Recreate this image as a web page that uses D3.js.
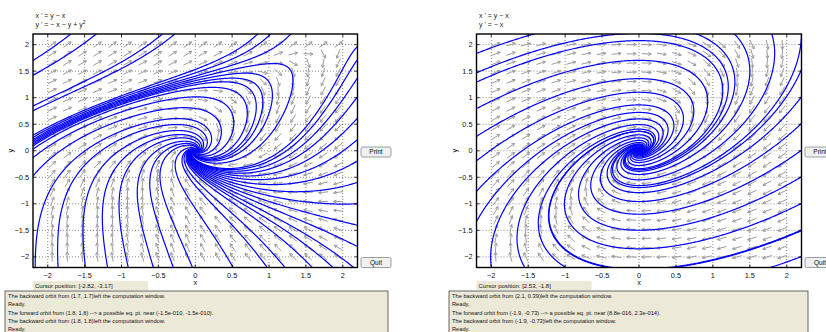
<!DOCTYPE html>
<html>
<head>
<meta charset="utf-8">
<script src="https://d3js.org/d3.v7.min.js"></script>
<style>
  body { margin: 0; background: #fff; }
  svg { display: block; font-family: "Liberation Sans", Arial, sans-serif; }
  .tick-label { font-size: 7.3px; fill: #111; }
  .axis-label { font-size: 7.3px; fill: #111; }
  .title { font-size: 7px; fill: #222; }
  .msg { font-size: 5.7px; fill: #111; }
  .cur { font-size: 6px; fill: #111; }
  .btn-text { font-size: 6.5px; fill: #111; }
</style>
</head>
<body>
<svg id="chart" width="826" height="332"></svg>
<script>
// ---- data ----
const tickValues = [-2, -1.5, -1, -0.5, 0, 0.5, 1, 1.5, 2];
const windowX = [-2.2, 2.2];
const windowY = [-2.2, 2.2];

const leftTitle = ["x ' = y \u2212 x", "y ' = \u2212 x \u2212 y + y"];
const rightTitle = ["x ' = y \u2212 x", "y ' = \u2212 x"];

// clicked starting points (x, y) for the left system
const leftSeedsBottom = [-2.17, -1.86, -1.49, -1.19, -0.91, -0.57, -0.30, -0.04, 0.51, 0.97, 1.21, 1.58, 1.86, 2.14];
const leftSeedsLeft = [1.71, 1.43, 0.85, 0.76, 0.3, 0.26, 0.22, 0.19, 0.16, 0.13, 0.1, 0.04, -0.12, -0.46];
const leftSeedsRight = [1.95, 1.7, 1.35, 1.0, 0.6, 0.2, -0.2, -0.6, -1.0, -1.4, -1.8];

// clicked starting points for the right system
const rightSeedsLeft = [1.84, 1.3, 0.8, 0.28, -0.18, -0.75, -1.31];
const rightSeedsBottom = [-2.0, -1.55, -1.0, -0.45];
const rightSeedsRight = [2.0, 1.5, 1.0, 0.5, 0.0, -0.5, -1.0, -1.5, -2.0];
const rightSeedsTop = [0.3, 0.8, 1.3, 1.8];

const leftCursor = "Cursor position:  [-2.82, -3.17]";
const rightCursor = "Cursor position:  [2.53, -1.8]";

const leftMessages = [
  "The backward orbit from (1.7, 1.7)left the computation window.",
  "Ready.",
  "The forward orbit from (1.8, 1.8) --> a possible eq. pt. near (-1.5e-010, -1.5e-010).",
  "The backward orbit from (1.8, 1.8)left the computation window.",
  "Ready."
];
const rightMessages = [
  "The backward orbit from (2.1, 0.39)left the computation window.",
  "Ready.",
  "The forward orbit from (-1.9, -0.73) --> a possible eq. pt. near (8.8e-016, 2.3e-014).",
  "The backward orbit from (-1.9, -0.73)left the computation window.",
  "Ready."
];

// the two systems
function fieldLeft(x, y) { return [y - x, -x - y + y * y]; }
function fieldRight(x, y) { return [y - x, -x]; }

const edge = 2.19;
function seedsFrom(left, bottom, right, top) {
  const s = [];
  left.forEach(y => s.push([-edge, y]));
  bottom.forEach(x => s.push([x, -edge]));
  right.forEach(y => s.push([edge, y]));
  top.forEach(x => s.push([x, edge]));
  return s;
}

const svg = d3.select('#chart');

function orbit(f, start, dir) {
  const dt = 0.005 * dir;
  let [x, y] = start;
  const pts = [[x, y]];
  for (let i = 0; i < 12000; i++) {
    const k1 = f(x, y);
    const k2 = f(x + dt / 2 * k1[0], y + dt / 2 * k1[1]);
    const k3 = f(x + dt / 2 * k2[0], y + dt / 2 * k2[1]);
    const k4 = f(x + dt * k3[0], y + dt * k3[1]);
    x += dt / 6 * (k1[0] + 2 * k2[0] + 2 * k3[0] + k4[0]);
    y += dt / 6 * (k1[1] + 2 * k2[1] + 2 * k3[1] + k4[1]);
    pts.push([x, y]);
    if (x < windowX[0] - 0.05 || x > windowX[1] + 0.05 || y < windowY[0] - 0.05 || y > windowY[1] + 0.05) break;
    if (Math.hypot(x, y) < 0.002) break;
  }
  return pts;
}

function drawPanel(p) {
  const xScale = d3.scaleLinear().domain(windowX).range([p.x0, p.x1]);
  const yScale = d3.scaleLinear().domain(windowY).range([p.y1, p.y0]);
  const g = svg.append('g');

  const clipId = 'clip-' + p.id;
  svg.append('clipPath').attr('id', clipId)
    .append('rect')
    .attr('x', p.x0).attr('y', p.y0)
    .attr('width', p.x1 - p.x0).attr('height', p.y1 - p.y0);

  // dotted grid
  const grid = g.append('g').attr('stroke', '#555').attr('stroke-width', 0.7)
    .attr('stroke-dasharray', '1,2');
  tickValues.forEach(t => {
    grid.append('line').attr('x1', xScale(t)).attr('x2', xScale(t))
      .attr('y1', p.y0).attr('y2', p.y1);
    grid.append('line').attr('y1', yScale(t)).attr('y2', yScale(t))
      .attr('x1', p.x0).attr('x2', p.x1);
  });

  // direction field
  const arrows = g.append('g').attr('stroke', '#9c9c9c').attr('stroke-width', 1)
    .attr('fill', 'none');
  const colX = d3.range(20).map(i => -1.94 + i * 3.88 / 19);
  const rowY = d3.range(24).map(j => -2.0 + j * 4.0 / 23);
  const len = 9.5, head = 3.3;
  colX.forEach(x => {
    rowY.forEach(y => {
      const v = p.field(x, y);
      let dx = xScale(x + v[0]) - xScale(x);
      let dy = yScale(y + v[1]) - yScale(y);
      const m = Math.hypot(dx, dy) || 1;
      dx = dx / m; dy = dy / m;
      const cx = xScale(x), cy = yScale(y);
      const tx = cx + dx * len / 2, ty = cy + dy * len / 2;
      const a = Math.atan2(dy, dx);
      const h1 = [tx - head * Math.cos(a - 0.5), ty - head * Math.sin(a - 0.5)];
      const h2 = [tx - head * Math.cos(a + 0.5), ty - head * Math.sin(a + 0.5)];
      arrows.append('path')
        .attr('d', `M${cx - dx * len / 2},${cy - dy * len / 2}L${tx},${ty}M${h1[0]},${h1[1]}L${tx},${ty}L${h2[0]},${h2[1]}`);
    });
  });

  // orbits
  const line = d3.line().x(d => xScale(d[0])).y(d => yScale(d[1]));
  const orbits = g.append('g').attr('clip-path', `url(#${clipId})`)
    .attr('stroke', '#0000ff').attr('stroke-width', 1.2).attr('fill', 'none');
  p.seeds.forEach(s => {
    [1, -1].forEach(dir => {
      orbits.append('path').attr('d', line(orbit(p.field, s, dir)));
    });
  });

  // frame and ticks
  g.append('rect').attr('x', p.x0).attr('y', p.y0)
    .attr('width', p.x1 - p.x0).attr('height', p.y1 - p.y0)
    .attr('fill', 'none').attr('stroke', '#000').attr('stroke-width', 1.4);
  const tk = g.append('g').attr('stroke', '#000').attr('stroke-width', 0.8);
  tickValues.forEach(t => {
    const tx = xScale(t), ty = yScale(t);
    tk.append('line').attr('x1', tx).attr('x2', tx).attr('y1', p.y1).attr('y2', p.y1 - 3);
    tk.append('line').attr('x1', tx).attr('x2', tx).attr('y1', p.y0).attr('y2', p.y0 + 3);
    tk.append('line').attr('y1', ty).attr('y2', ty).attr('x1', p.x0).attr('x2', p.x0 + 3);
    tk.append('line').attr('y1', ty).attr('y2', ty).attr('x1', p.x1).attr('x2', p.x1 - 3);
  });
  const fmt = t => (t < 0 ? '\u2212' : '') + Math.abs(t);
  tickValues.forEach(t => {
    g.append('text').attr('class', 'tick-label')
      .attr('x', xScale(t)).attr('y', p.y1 + 10).attr('text-anchor', 'middle')
      .text(fmt(t));
    g.append('text').attr('class', 'tick-label')
      .attr('x', p.x0 - 4).attr('y', yScale(t) + 2.6).attr('text-anchor', 'end')
      .text(fmt(t));
  });
  g.append('text').attr('class', 'axis-label')
    .attr('x', xScale(0)).attr('y', 285).attr('text-anchor', 'middle').text('x');
  g.append('text').attr('class', 'axis-label')
    .attr('transform', `translate(${p.x0 - 20},${yScale(0)}) rotate(-90)`)
    .attr('text-anchor', 'middle').text('y');

  // equations
  p.title.forEach((t, i) => {
    const txt = g.append('text').attr('class', 'title')
      .attr('x', p.x0 + 2.5).attr('y', 17.5 + i * 9).text(t);
    if (p.squared && i === 1) {
      txt.append('tspan').attr('dy', -2.8).attr('font-size', 4.8).text('2');
    }
  });

  // buttons
  [['Print', 147], ['Quit', 257.5]].forEach(([label, by]) => {
    g.append('rect').attr('x', p.x1 + 3.5).attr('y', by)
      .attr('width', 30).attr('height', 10).attr('rx', 1.5)
      .attr('fill', '#f0f0ee').attr('stroke', '#7a8a99').attr('stroke-width', 0.8);
    g.append('text').attr('class', 'btn-text')
      .attr('x', p.x1 + 18.5).attr('y', by + 7.4).attr('text-anchor', 'middle').text(label);
  });

  // cursor box
  g.append('rect').attr('x', p.x0).attr('y', 281)
    .attr('width', 115).attr('height', 9).attr('fill', '#ece9d8');
  g.append('text').attr('class', 'cur')
    .attr('x', p.x0 + 2).attr('y', 287.6).text(p.cursor);

  // message box
  g.append('rect').attr('x', p.msgX0).attr('y', 291)
    .attr('width', p.msgX1 - p.msgX0).attr('height', 50)
    .attr('fill', '#ece9d8').attr('stroke', '#444').attr('stroke-width', 0.8);
  const lineY = [297.5, 305.5, 314.5, 322.8, 331.2];
  p.messages.forEach((m, i) => {
    g.append('text').attr('class', 'msg')
      .attr('x', p.msgX0 + 3).attr('y', lineY[i]).text(m);
  });
}

drawPanel({
  id: 'left', x0: 33, x1: 357.5, y0: 34, y1: 267.5,
  msgX0: 5, msgX1: 388,
  field: fieldLeft,
  seeds: seedsFrom(leftSeedsLeft, leftSeedsBottom, leftSeedsRight, []),
  title: leftTitle, squared: true,
  cursor: leftCursor, messages: leftMessages
});
drawPanel({
  id: 'right', x0: 476.5, x1: 801.5, y0: 34, y1: 267.5,
  msgX0: 449, msgX1: 808,
  field: fieldRight,
  seeds: seedsFrom(rightSeedsLeft, rightSeedsBottom, rightSeedsRight, rightSeedsTop),
  title: rightTitle, squared: false,
  cursor: rightCursor, messages: rightMessages
});
</script>
</body>
</html>
